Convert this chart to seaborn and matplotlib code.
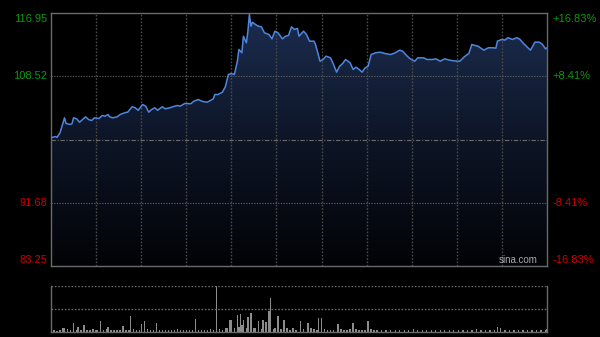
import numpy as np
import pandas as pd
import seaborn as sns
import matplotlib
matplotlib.use("Agg")
import matplotlib.pyplot as plt
from matplotlib.colors import LinearSegmentedColormap
from matplotlib.patches import Polygon

# ---------------- data ----------------
minutes = [0, 3, 4, 6, 9, 10, 13, 14, 15, 17, 19, 21, 23, 25, 27, 29, 32, 34, 36, 38, 39, 41, 44, 46,
           49, 51, 54, 56, 58, 61, 63, 65, 67, 69, 71, 74, 76, 79, 81, 84, 86, 89, 93, 95, 98, 99,
           101, 104, 106, 108, 109, 111, 114, 116, 118, 120, 122, 124, 125, 127, 128, 130, 131, 132,
           133, 134, 136, 138, 140, 142, 145, 147, 149, 151, 154, 156, 158, 160, 162, 164, 165, 167,
           168, 170, 172, 175, 176, 179, 181, 183, 186, 188, 190, 192, 194, 196, 199, 201, 203, 205,
           207, 209, 211, 213, 216, 219, 222, 226, 229, 232, 234, 237, 239, 242, 244, 248, 250, 254,
           256, 259, 262, 265, 270, 272, 275, 278, 280, 282, 284, 288, 291, 294, 296, 297, 300, 302,
           304, 307, 310, 312, 315, 319, 322, 325, 327, 329, 330]
prices = [100.33, 100.50, 100.37, 100.99, 102.99, 102.23, 102.10, 102.23, 102.99, 102.86, 102.40,
          102.76, 103.12, 102.76, 102.63, 102.99, 102.90, 103.30, 103.20, 103.43, 103.12, 102.99,
          103.12, 103.43, 103.66, 103.74, 104.46, 104.32, 104.00, 104.76, 104.54, 103.74, 104.10,
          104.32, 104.00, 104.46, 104.19, 104.32, 104.46, 104.63, 104.54, 104.90, 104.86, 105.20,
          105.43, 105.33, 105.16, 105.07, 105.29, 105.52, 106.09, 106.09, 106.40, 107.12, 108.76,
          108.89, 108.76, 110.53, 112.09, 111.65, 113.86, 112.98, 114.53, 116.75, 115.19, 115.72,
          115.42, 115.19, 115.11, 114.31, 114.09, 113.51, 114.53, 114.31, 113.51, 113.86, 113.95,
          115.11, 114.75, 114.89, 113.86, 114.31, 114.53, 114.09, 113.20, 113.20, 112.76, 110.53,
          110.76, 111.20, 110.98, 110.09, 109.07, 109.86, 110.22, 110.76, 110.32, 109.43, 109.73,
          109.43, 109.07, 109.65, 109.86, 111.42, 111.65, 111.73, 111.56, 111.42, 111.65, 112.00,
          111.86, 111.20, 110.85, 110.53, 110.98, 110.98, 110.76, 110.76, 110.85, 110.53, 110.85,
          110.67, 110.53, 110.53, 111.12, 111.56, 112.76, 112.63, 112.54, 112.00, 112.32, 112.32,
          112.27, 113.20, 113.43, 113.34, 113.66, 113.43, 113.66, 113.43, 112.76, 112.00, 113.07,
          113.07, 112.76, 112.18, 112.32]

vol_min = [0, 2, 4, 6, 8, 9, 11, 13, 15, 17, 18, 20, 22, 24, 26, 28, 30, 31, 33, 35, 37, 38, 40, 42,
           44, 46, 48, 50, 52, 53, 55, 57, 59, 60, 62, 64, 66, 68, 70, 72, 74, 76, 78, 80, 82, 84,
           86, 88, 90, 92, 94, 96, 98, 100, 102, 104, 106, 108, 110, 112, 114, 116, 117, 119, 120,
           122, 124, 125, 126, 127, 128, 130, 131, 133, 135, 136, 138, 140, 141, 143, 145, 146, 148,
           149, 151, 153, 155, 157, 159, 161, 163, 166, 168, 171, 173, 175, 177, 178, 180, 182, 184,
           186, 188, 191, 193, 195, 197, 199, 201, 203, 205, 207, 209, 211, 213, 215, 217, 220, 223,
           226, 229, 232, 235, 238, 241, 244, 247, 250, 253, 256, 259, 262, 265, 268, 271, 274, 277,
           280, 283, 286, 289, 292, 295, 297, 299, 302, 305, 308, 311, 314, 317, 320, 323, 326, 329,
           330]
vol_val = [6, 3, 2, 3, 7, 8, 6, 3, 19, 4, 11, 4, 14, 3, 3, 6, 3, 4, 23, 4, 5, 11, 3, 3,
           4, 3, 12, 4, 3, 34, 5, 3, 4, 17, 23, 5, 3, 4, 19, 4, 3, 3, 3, 4, 3, 5,
           3, 4, 3, 4, 3, 27, 4, 3, 3, 3, 5, 4, 100, 5, 4, 9, 9, 25, 25,
           8, 37, 10, 39, 14, 26, 9, 32, 41, 7, 9, 23, 6, 25, 21, 44, 74, 6,
           8, 34, 6, 25, 7, 4, 8, 4, 23, 5, 20, 7, 6, 3, 30, 30, 5, 3,
           4, 3, 16, 5, 3, 4, 6, 18, 5, 4, 3, 4, 23, 5, 3, 3, 4, 3,
           3, 4, 3, 3, 3, 6, 3, 3, 3, 3, 4, 3, 3, 3, 3, 3, 4, 3,
           3, 5, 3, 3, 3, 4, 11, 7, 3, 3, 4, 3, 3, 3, 4, 3, 3, 4,
           5]

prev_close = 100.10
y_ticks = [116.95, 108.52, 100.10, 91.68, 83.25]
left_labels = ["116.95", "108.52", "", "91.68", "83.25"]
right_labels = ["+16.83%", "+8.41%", "", "-8.41%", "-16.83%"]
label_colors = ["#0a9a0a", "#0a9a0a", None, "#cc0000", "#cc0000"]
session_len = 330
grid_minutes = [30, 60, 90, 120, 150, 180, 210, 240, 270, 300]

# ---------------- style ----------------
sns.set_style("dark")
plt.rcParams["font.family"] = ["Liberation Sans", "DejaVu Sans"]
plt.rcParams["figure.facecolor"] = "black"
plt.rcParams["axes.facecolor"] = "black"

fig = plt.figure(figsize=(6.0, 3.37), dpi=100)
ax = fig.add_axes([51 / 600, 1 - 266 / 337, 496 / 600, 253 / 337])
axv = fig.add_axes([51 / 600, 1 - 331.7 / 337, 496 / 600, 46 / 337])

df = pd.DataFrame({"minute": minutes, "price": prices})
ymin, ymax = y_ticks[-1], y_ticks[0]

# gradient fill under the line
cmap = LinearSegmentedColormap.from_list("fill", ["#020306", "#0d1526", "#1c2d50"])
grad = np.linspace(0, 1, 256).reshape(-1, 1)
im = ax.imshow(grad, cmap=cmap, aspect="auto", origin="lower",
               extent=[0, session_len, ymin, ymax], zorder=1)
poly_xy = [(minutes[0], ymin)] + list(zip(minutes, prices)) + [(minutes[-1], ymin)]
clip = Polygon(poly_xy, closed=True, facecolor="none", edgecolor="none")
ax.add_patch(clip)
im.set_clip_path(clip)

sns.lineplot(data=df, x="minute", y="price", ax=ax, color="#4f86dc", linewidth=1.1, zorder=3)

ax.set_xlim(0, session_len)
ax.set_ylim(ymin, ymax)
ax.set_xlabel("")
ax.set_ylabel("")
ax.set_xticks([])
ax.set_yticks([])
ax.grid(False)

# grid lines
for m in grid_minutes:
    ax.axvline(m, color="#4a4a4a", linewidth=1.0, linestyle=(0, (1.2, 1.2)), zorder=2)
for v in [y_ticks[1], y_ticks[3]]:
    ax.axhline(v, color="#5a5a5a", linewidth=0.8, linestyle=(0, (1.2, 1.2)), zorder=2)
ax.axhline(prev_close, color="#6a6a6a", linewidth=0.8, linestyle=(0, (4, 1.5, 1, 1.5)), zorder=2)

for s in ax.spines.values():
    s.set_color("#6a6a6a")
    s.set_linewidth(1.0)
    s.set_visible(True)

# price labels
offsets = [-4.5, 0, 0, 0, 4.5]
for v, ll, rl, c, dy in zip(y_ticks, left_labels, right_labels, label_colors, offsets):
    if not ll:
        continue
    ax.annotate(ll, xy=(0, v), xycoords=("axes fraction", "data"), xytext=(-2.5, dy),
                textcoords="offset points", ha="right", va="center", color=c, fontsize=8)
    ax.annotate(rl, xy=(1, v), xycoords=("axes fraction", "data"), xytext=(4, dy),
                textcoords="offset points", ha="left", va="center", color=c, fontsize=8)

ax.text(0.982, 0.005, "sina.com", transform=ax.transAxes, ha="right", va="bottom",
        color="#aaaaaa", fontsize=7, zorder=4)

# volume
vdf = pd.DataFrame({"minute": vol_min, "volume": vol_val})
axv.bar(vdf["minute"], vdf["volume"], width=0.9, color="#8c8c8c", linewidth=0)
axv.set_xlim(0, session_len)
axv.set_ylim(0, max(vol_val))
axv.set_xticks([])
axv.set_yticks([])
axv.grid(False)
axv.axhline(max(vol_val), color="#6a6a6a", linewidth=1.0, linestyle=(0, (1.2, 1.2)))
axv.axhline(max(vol_val) / 2, color="#6a6a6a", linewidth=1.0, linestyle=(0, (1.2, 1.2)))
for name, s in axv.spines.items():
    s.set_color("#6a6a6a")
    s.set_linewidth(1.0)
    s.set_visible(name != "top")

fig.savefig("out.png", dpi=100, facecolor="black")
